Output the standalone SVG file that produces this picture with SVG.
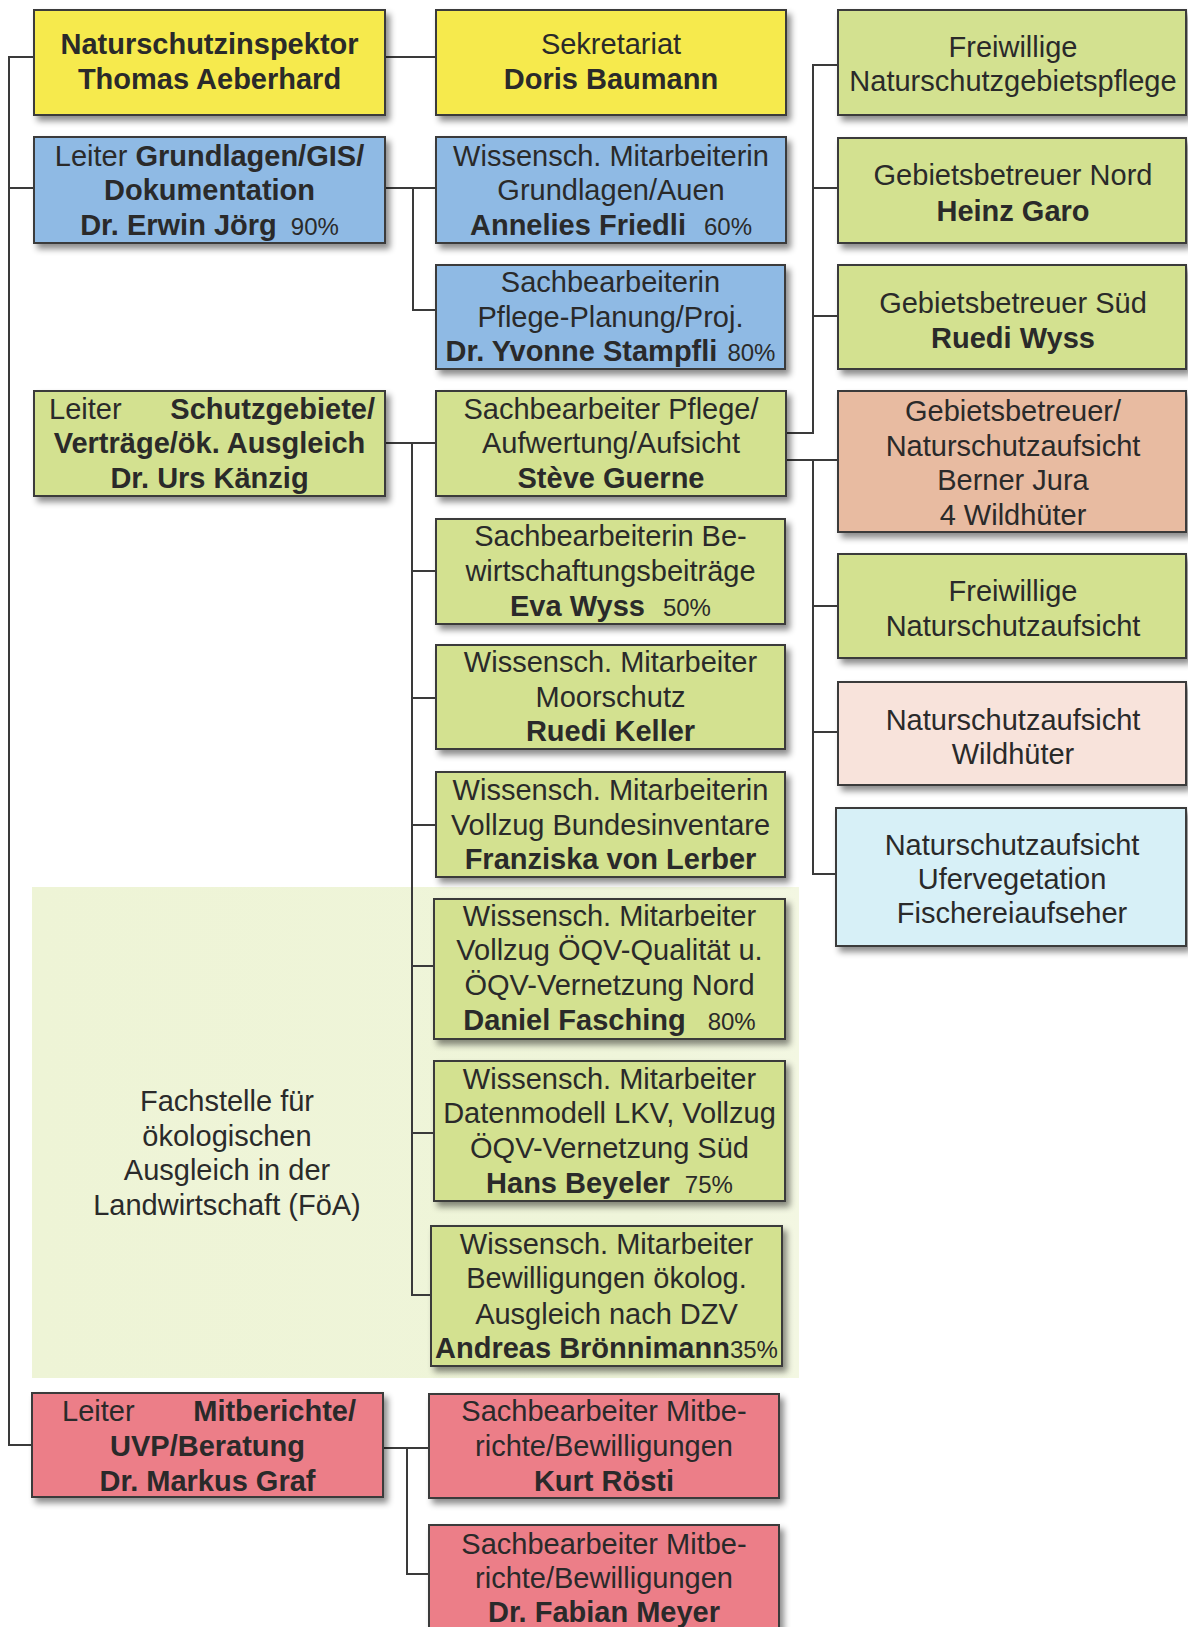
<svg xmlns="http://www.w3.org/2000/svg" width="1188" height="1627" viewBox="0 0 1188 1627">
<defs>
<filter id="sh" x="-5%" y="-10%" width="115%" height="130%">
<feDropShadow dx="4" dy="5" stdDeviation="3" flood-color="#000" flood-opacity="0.45"/>
</filter>
<linearGradient id="foa" x1="0" y1="0" x2="1" y2="0">
<stop offset="0" stop-color="#eef4d6"/>
<stop offset="0.8" stop-color="#eff5da"/>
<stop offset="1" stop-color="#f3f7e2"/>
</linearGradient>
</defs>
<style>
.box{stroke:#3a3a3a;stroke-width:2;filter:url(#sh)}
.y{fill:#f6ea4e}
.bl{fill:#8fbae4}
.g{fill:#d3e190}
.sa{fill:#e8bba1}
.pk{fill:#f8e3db}
.cy{fill:#d7f0f7}
.r{fill:#ec7e88}
text{font-family:"Liberation Sans",Arial,Helvetica,sans-serif;font-size:29px;fill:#2a2a2a;text-anchor:middle}
.b{font-weight:bold}
.p{font-size:24px;font-weight:normal}
.st{text-anchor:start}
.en{text-anchor:end}
.conn{stroke:#3a3a3a;stroke-width:2;fill:none}
</style>
<rect width="1188" height="1627" fill="#ffffff"/>
<g id="foa-area">
<rect x="32" y="887" width="767" height="491" fill="url(#foa)"/>
<text x="227" y="1111">Fachstelle für</text>
<text x="227" y="1146">ökologischen</text>
<text x="227" y="1180">Ausgleich in der</text>
<text x="227" y="1215">Landwirtschaft (FöA)</text>
</g>
<g id="connectors" class="conn">
<path d="M34,57 H9 V1445 H32 M9,188 H34"/>
<path d="M385,57 H436"/>
<path d="M385,188 H436 M413,188 V310 H436"/>
<path d="M385,443 H436 M412,443 V1295 H431 M412,571 H436 M412,698 H436 M412,825 H436 M412,966 H434 M412,1133 H434"/>
<path d="M786,433 H813 V65 H838 M813,188 H838 M813,316 H838"/>
<path d="M786,460 H837 M813,460 V874 H836 M813,606 H838 M813,732 H838"/>
<path d="M383,1448 H429 M407,1448 V1574 H429"/>
</g>
<g id="n-inspektor">
<rect class="box y" x="34" y="10" width="351" height="105"/>
<text class="b" x="209.5" y="54">Naturschutzinspektor</text>
<text class="b" x="209.5" y="89">Thomas Aeberhard</text>
</g>
<g id="n-sekretariat">
<rect class="box y" x="436" y="10" width="350" height="105"/>
<text x="611" y="54">Sekretariat</text>
<text class="b" x="611" y="89">Doris Baumann</text>
</g>
<g id="n-freiwillige-pflege">
<rect class="box g" x="838" y="10" width="348" height="105"/>
<text x="1013" y="57">Freiwillige</text>
<text x="1013" y="91">Naturschutzgebietspflege</text>
</g>
<g id="n-gis">
<rect class="box bl" x="34" y="137" width="351" height="106"/>
<text x="209.5" y="166">Leiter <tspan class="b">Grundlagen/GIS/</tspan></text>
<text class="b" x="209.5" y="200">Dokumentation</text>
<text x="209.5" y="235"><tspan class="b">Dr. Erwin Jörg</tspan><tspan class="p" dx="14">90%</tspan></text>
</g>
<g id="n-friedli">
<rect class="box bl" x="436" y="137" width="350" height="106"/>
<text x="611" y="166">Wissensch. Mitarbeiterin</text>
<text x="611" y="200">Grundlagen/Auen</text>
<text x="611" y="235"><tspan class="b">Annelies Friedli</tspan><tspan class="p" dx="18">60%</tspan></text>
</g>
<g id="n-nord">
<rect class="box g" x="838" y="138" width="348" height="105"/>
<text x="1013" y="185">Gebietsbetreuer Nord</text>
<text class="b" x="1013" y="221">Heinz Garo</text>
</g>
<g id="n-stampfli">
<rect class="box bl" x="436" y="265" width="349" height="104"/>
<text x="610.5" y="292">Sachbearbeiterin</text>
<text x="610.5" y="327">Pflege-Planung/Proj.</text>
<text x="610.5" y="361"><tspan class="b">Dr. Yvonne Stampfli</tspan><tspan class="p" dx="10">80%</tspan></text>
</g>
<g id="n-sued">
<rect class="box g" x="838" y="265" width="348" height="104"/>
<text x="1013" y="313">Gebietsbetreuer Süd</text>
<text class="b" x="1013" y="348">Ruedi Wyss</text>
</g>
<g id="n-schutzgebiete">
<rect class="box g" x="34" y="391" width="351" height="105"/>
<text class="st" x="49" y="419">Leiter</text>
<text class="b en" x="375" y="419">Schutzgebiete/</text>
<text class="b" x="209.5" y="453">Verträge/ök. Ausgleich</text>
<text class="b" x="209.5" y="488">Dr. Urs Känzig</text>
</g>
<g id="n-guerne">
<rect class="box g" x="436" y="391" width="350" height="105"/>
<text x="611" y="419">Sachbearbeiter Pflege/</text>
<text x="611" y="453">Aufwertung/Aufsicht</text>
<text class="b" x="611" y="488">Stève Guerne</text>
</g>
<g id="n-jura">
<rect class="box sa" x="838" y="391" width="348" height="141"/>
<text x="1013" y="421">Gebietsbetreuer/</text>
<text x="1013" y="456">Naturschutzaufsicht</text>
<text x="1013" y="490">Berner Jura</text>
<text x="1013" y="525">4 Wildhüter</text>
</g>
<g id="n-eva">
<rect class="box g" x="436" y="519" width="349" height="105"/>
<text x="610.5" y="546">Sachbearbeiterin Be-</text>
<text x="610.5" y="581">wirtschaftungsbeiträge</text>
<text x="610.5" y="616"><tspan class="b">Eva Wyss</tspan><tspan class="p" dx="18">50%</tspan></text>
</g>
<g id="n-freiwillige-aufsicht">
<rect class="box g" x="838" y="554" width="348" height="104"/>
<text x="1013" y="601">Freiwillige</text>
<text x="1013" y="636">Naturschutzaufsicht</text>
</g>
<g id="n-keller">
<rect class="box g" x="436" y="645" width="349" height="104"/>
<text x="610.5" y="672">Wissensch. Mitarbeiter</text>
<text x="610.5" y="707">Moorschutz</text>
<text class="b" x="610.5" y="741">Ruedi Keller</text>
</g>
<g id="n-wildhueter">
<rect class="box pk" x="838" y="682" width="348" height="103"/>
<text x="1013" y="730">Naturschutzaufsicht</text>
<text x="1013" y="764">Wildhüter</text>
</g>
<g id="n-lerber">
<rect class="box g" x="436" y="772" width="349" height="105"/>
<text x="610.5" y="800">Wissensch. Mitarbeiterin</text>
<text x="610.5" y="835">Vollzug Bundesinventare</text>
<text class="b" x="610.5" y="869">Franziska von Lerber</text>
</g>
<g id="n-ufer">
<rect class="box cy" x="836" y="808" width="350" height="138"/>
<text x="1012" y="855">Naturschutzaufsicht</text>
<text x="1012" y="889">Ufervegetation</text>
<text x="1012" y="923">Fischereiaufseher</text>
</g>
<g id="n-fasching">
<rect class="box g" x="434" y="899" width="351" height="140"/>
<text x="609.5" y="926">Wissensch. Mitarbeiter</text>
<text x="609.5" y="960">Vollzug ÖQV-Qualität u.</text>
<text x="609.5" y="995">ÖQV-Vernetzung Nord</text>
<text x="609.5" y="1030"><tspan class="b">Daniel Fasching</tspan><tspan class="p" dx="22">80%</tspan></text>
</g>
<g id="n-beyeler">
<rect class="box g" x="434" y="1061" width="351" height="140"/>
<text x="609.5" y="1089">Wissensch. Mitarbeiter</text>
<text x="609.5" y="1123">Datenmodell LKV, Vollzug</text>
<text x="609.5" y="1158">ÖQV-Vernetzung Süd</text>
<text x="609.5" y="1193"><tspan class="b">Hans Beyeler</tspan><tspan class="p" dx="15">75%</tspan></text>
</g>
<g id="n-broennimann">
<rect class="box g" x="431" y="1226" width="351" height="140"/>
<text x="606.5" y="1254">Wissensch. Mitarbeiter</text>
<text x="606.5" y="1288">Bewilligungen ökolog.</text>
<text x="606.5" y="1324">Ausgleich nach DZV</text>
<text x="606.5" y="1358"><tspan class="b">Andreas Brönnimann</tspan><tspan class="p">35%</tspan></text>
</g>
<g id="n-mitberichte">
<rect class="box r" x="32" y="1393" width="351" height="104"/>
<text class="st" x="62" y="1421">Leiter</text>
<text class="b en" x="356" y="1421">Mitberichte/</text>
<text class="b" x="207.5" y="1456">UVP/Beratung</text>
<text class="b" x="207.5" y="1491">Dr. Markus Graf</text>
</g>
<g id="n-roesti">
<rect class="box r" x="429" y="1394" width="350" height="104"/>
<text x="604" y="1421">Sachbearbeiter Mitbe-</text>
<text x="604" y="1456">richte/Bewilligungen</text>
<text class="b" x="604" y="1491">Kurt Rösti</text>
</g>
<g id="n-meyer">
<rect class="box r" x="429" y="1525" width="350" height="115"/>
<text x="604" y="1554">Sachbearbeiter Mitbe-</text>
<text x="604" y="1588">richte/Bewilligungen</text>
<text class="b" x="604" y="1622">Dr. Fabian Meyer</text>
</g>
</svg>
